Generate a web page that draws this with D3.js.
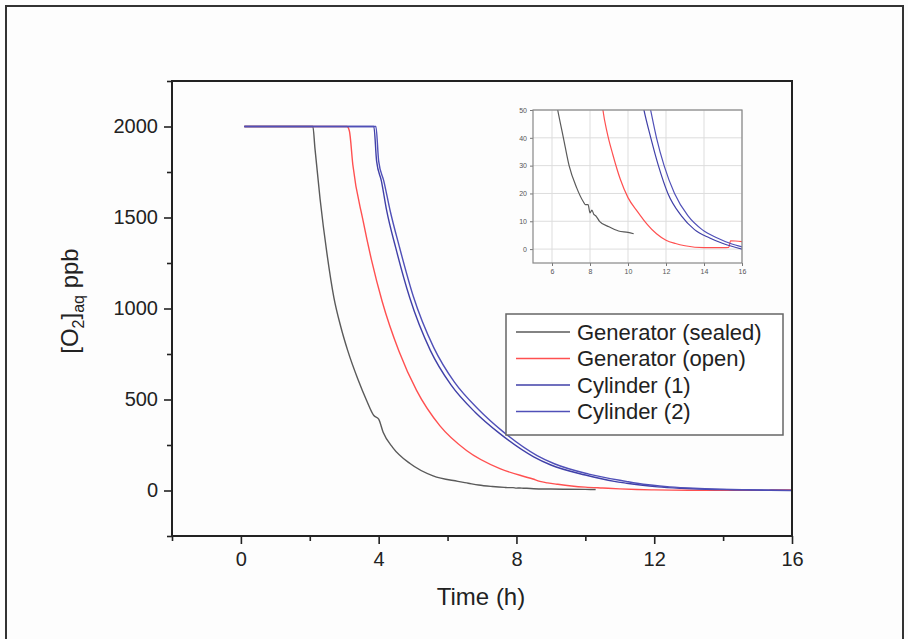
<!DOCTYPE html>
<html>
<head>
<meta charset="utf-8">
<script src="https://cdn.jsdelivr.net/npm/d3@7"></script>
<style>
  html, body { margin: 0; padding: 0; background: #fff; }
  svg { display: block; font-family: "Liberation Sans", Arial, sans-serif; }
</style>
</head>
<body>
<svg id="chart" width="908" height="639"></svg>
<script>
(function () {
    'use strict';

    // time (h) and dissolved O2 (ppb)
    const sealedT = [0.1, 2.09, 2.15, 2.3, 2.5, 2.7, 2.9, 3.1, 3.4, 3.65, 3.86, 4.0, 4.13, 4.41, 4.91, 5.58, 6.3, 6.6, 6.9, 7.3, 7.65, 7.75, 7.9, 8.0, 8.1, 8.2, 8.3, 8.5, 9.0, 9.5, 10.0, 10.3];
    const sealedV = [2000, 2000, 1880, 1600, 1300, 1060, 900, 770, 610, 495, 412, 392, 320, 236, 148, 80, 50, 40, 30, 22, 17, 16, 16, 13, 14, 12.5, 12, 10, 8, 6.5, 6, 5.5];

    const openT = [0.1, 3.08, 3.15, 3.25, 3.55, 3.8, 4.1, 4.59, 5.1, 5.78, 6.55, 7.52, 8.48, 8.68, 8.9, 9.2, 9.6, 10.0, 10.5, 11.0, 11.5, 12.0, 12.5, 13.0, 14.0, 15.0, 15.3, 15.4, 16.0];
    const openV = [2000, 2000, 1975, 1790, 1480, 1260, 1040, 765, 550, 355, 220, 120, 63, 50, 42, 34, 25, 18.5, 13.5, 9, 5.5, 3.2, 2, 1.2, 0.5, 0.5, 0.6, 3, 2.7];

    const cyl1T = [0.1, 3.86, 3.94, 4.08, 4.23, 4.5, 4.9, 5.5, 6.1, 6.8, 7.5, 8.5, 9.0, 10.0, 10.84, 11.2, 11.6, 12.1, 12.8, 13.5, 14.3, 15.0, 16.0];
    const cyl1V = [2000, 2000, 1810, 1700, 1540, 1330, 1060, 770, 580, 430, 315, 185, 140, 85, 50, 40, 30, 20, 12, 7, 4, 2, 0];

    const cyl2T = [0.1, 3.92, 4.0, 4.15, 4.33, 4.6, 5.0, 5.6, 6.2, 6.9, 7.6, 8.6, 9.1, 10.1, 11.19, 11.5, 11.9, 12.45, 13.15, 13.9, 14.7, 15.4, 16.0];
    const cyl2V = [2000, 2000, 1810, 1700, 1540, 1340, 1070, 785, 595, 445, 325, 192, 147, 90, 50, 40, 30, 20, 12, 7, 4, 2, 0.8];

    const names = ["Generator (sealed)", "Generator (open)", "Cylinder (1)", "Cylinder (2)"];
    const colors = ["#5a5a5a", "#ff5050", "#4040a8", "#5050b8"];

    const xTicks = [0, 4, 8, 12, 16];
    const xMinor = [-2, 2, 6, 10, 14];
    const yTicks = [0, 500, 1000, 1500, 2000];
    const yMinor = [-250, 250, 750, 1250, 1750, 2250];
    const insetXTicks = [6, 8, 10, 12, 14, 16];
    const insetYTicks = [0, 10, 20, 30, 40, 50];

    const zip = (t, v) => t.map((d, i) => [d, v[i]]);
    const series = [
        zip(sealedT, sealedV),
        zip(openT, openV),
        zip(cyl1T, cyl1V),
        zip(cyl2T, cyl2V)
    ];

    const svg = d3.select('#chart');

    svg.append("rect")
        .attr("width", 908).attr("height", 639)
        .attr("fill", "#fdfdfd");

    // outer figure border
    svg.append("rect")
        .attr("x", 6).attr("y", 6)
        .attr("width", 897).attr("height", 660)
        .attr("fill", "none")
        .attr("stroke", "#333")
        .attr("stroke-width", 2);

    const left = 172, right = 792, top = 81, bottom = 536;
    const x = d3.scaleLinear().domain([-2, 16]).range([left, right]);
    const y = d3.scaleLinear().domain([-250, 2250]).range([bottom, top]);

    const line = d3.line()
        .curve(d3.curveMonotoneX)
        .x(d => x(d[0]))
        .y(d => y(d[1]));

    const plot = svg.append("g");
    series.forEach((s, i) => {
        plot.append("path")
            .datum(s)
            .attr("fill", "none")
            .attr("stroke", colors[i])
            .attr("stroke-width", 1.4)
            .attr("d", line);
    });

    // axes
    const xAxis = svg.append("g")
        .attr("transform", `translate(0,${bottom})`)
        .call(d3.axisBottom(x).tickValues(xTicks).tickSize(8).tickPadding(8).tickFormat(d3.format("d")));
    svg.append("g")
        .attr("transform", `translate(0,${bottom})`)
        .call(d3.axisBottom(x).tickValues(xMinor).tickSize(5).tickFormat(""));
    const yAxis = svg.append("g")
        .attr("transform", `translate(${left},0)`)
        .call(d3.axisLeft(y).tickValues(yTicks).tickSize(8).tickPadding(6).tickFormat(d3.format("d")));
    svg.append("g")
        .attr("transform", `translate(${left},0)`)
        .call(d3.axisLeft(y).tickValues(yMinor).tickSize(5).tickFormat(""));

    svg.selectAll(".domain").remove();
    svg.selectAll(".tick line").attr("stroke", "#222").attr("stroke-width", 1.6);
    xAxis.selectAll("text").attr("font-size", 20).attr("fill", "#222")
        .attr("font-family", "Liberation Sans, Arial, sans-serif");
    yAxis.selectAll("text").attr("font-size", 20).attr("fill", "#222")
        .attr("font-family", "Liberation Sans, Arial, sans-serif");

    svg.append("rect")
        .attr("x", left).attr("y", top)
        .attr("width", right - left).attr("height", bottom - top)
        .attr("fill", "none")
        .attr("stroke", "#222")
        .attr("stroke-width", 2);

    // axis titles
    svg.append("text")
        .attr("x", (left + right) / 2 - 1)
        .attr("y", 605)
        .attr("text-anchor", "middle")
        .attr("font-size", 24)
        .attr("fill", "#222")
        .text("Time (h)");

    const yl = svg.append("text")
        .attr("transform", "translate(78,301) rotate(-90)")
        .attr("text-anchor", "middle")
        .attr("font-size", 24)
        .attr("fill", "#222");
    yl.append("tspan").text("[O");
    yl.append("tspan").attr("font-size", 16).attr("dy", 6).text("2");
    yl.append("tspan").attr("dy", -6).text("]");
    yl.append("tspan").attr("font-size", 16).attr("dy", 6).text("aq");
    yl.append("tspan").attr("dy", -6).text(" ppb");

    // legend
    const lg = svg.append("g");
    lg.append("rect")
        .attr("x", 506).attr("y", 314)
        .attr("width", 277).attr("height", 121)
        .attr("fill", "#fff")
        .attr("stroke", "#666")
        .attr("stroke-width", 1.5);
    names.forEach((n, i) => {
        const ry = 332 + i * 26.5;
        lg.append("line")
            .attr("x1", 516).attr("x2", 570)
            .attr("y1", ry).attr("y2", ry)
            .attr("stroke", colors[i])
            .attr("stroke-width", 1.4);
        lg.append("text")
            .attr("x", 577).attr("y", ry)
            .attr("dy", "0.36em")
            .attr("font-size", 22)
            .attr("fill", "#222")
            .text(n);
    });

    // inset
    const il = 533, ir = 742, it = 110, ib = 263;
    const xi = d3.scaleLinear().domain([5, 16]).range([il, ir]);
    const yi = d3.scaleLinear().domain([-5, 50]).range([ib, it]);
    const inset = svg.append("g");

    inset.append("rect")
        .attr("x", il).attr("y", it)
        .attr("width", ir - il).attr("height", ib - it)
        .attr("fill", "#fff");

    inset.append("g").selectAll("line")
        .data(insetXTicks)
        .join("line")
        .attr("x1", d => xi(d)).attr("x2", d => xi(d))
        .attr("y1", it).attr("y2", ib)
        .attr("stroke", "#ddd").attr("stroke-width", 1);
    inset.append("g").selectAll("line")
        .data(insetYTicks)
        .join("line")
        .attr("x1", il).attr("x2", ir)
        .attr("y1", d => yi(d)).attr("y2", d => yi(d))
        .attr("stroke", "#ddd").attr("stroke-width", 1);

    svg.append("clipPath").attr("id", "insetClip")
        .append("rect")
        .attr("x", il).attr("y", it)
        .attr("width", ir - il).attr("height", ib - it);

    const lineI = d3.line()
        .curve(d3.curveMonotoneX)
        .x(d => xi(d[0]))
        .y(d => yi(d[1]));

    const insetLines = inset.append("g").attr("clip-path", "url(#insetClip)");
    series.forEach((s, i) => {
        insetLines.append("path")
            .datum(s)
            .attr("fill", "none")
            .attr("stroke", colors[i])
            .attr("stroke-width", 1.2)
            .attr("d", lineI);
    });

    const ixAxis = inset.append("g")
        .attr("transform", `translate(0,${ib})`)
        .call(d3.axisBottom(xi).tickValues(insetXTicks).tickSize(3).tickPadding(3));
    const iyAxis = inset.append("g")
        .attr("transform", `translate(${il},0)`)
        .call(d3.axisLeft(yi).tickValues(insetYTicks).tickSize(3).tickPadding(3));
    [ixAxis, iyAxis].forEach(a => {
        a.select(".domain").remove();
        a.selectAll(".tick line").attr("stroke", "#777");
        a.selectAll("text").attr("font-size", 7).attr("fill", "#555")
            .attr("font-family", "Liberation Sans, Arial, sans-serif");
    });

    inset.append("rect")
        .attr("x", il).attr("y", it)
        .attr("width", ir - il).attr("height", ib - it)
        .attr("fill", "none")
        .attr("stroke", "#888")
        .attr("stroke-width", 1.2);
}());
</script>
</body>
</html>
